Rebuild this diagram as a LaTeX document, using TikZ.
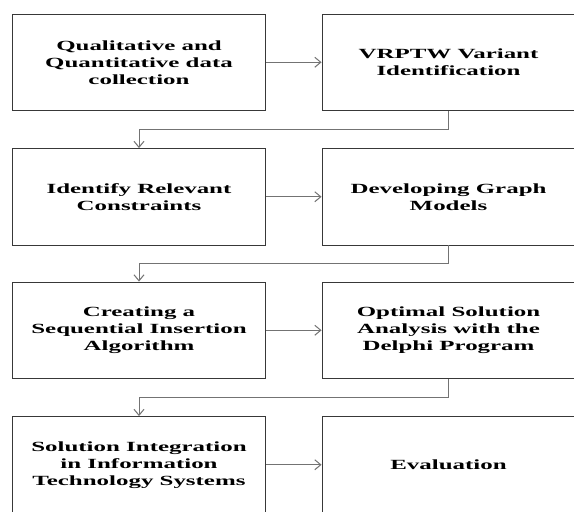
\documentclass[tikz,border=0pt]{standalone}
\usepackage{fontspec}
\newfontfamily\boxfont[FakeStretch=1.78]{Liberation Serif}
\usetikzlibrary{arrows.meta,calc}
\begin{document}
\begin{tikzpicture}[x=1pt,y=-1pt,
  stepbox/.style={draw=black!78, line width=0.9pt, minimum width=253pt, minimum height=96.5pt,
    inner sep=0pt, align=center, font=\boxfont\bfseries\fontsize{14}{17}\selectfont},
  flow/.style={draw=black!55, line width=1pt, -{Straight Barb[length=6pt,width=10pt,line width=1pt]}}]
\useasboundingbox (0,0) rectangle (574,512);
\clip (0,0) rectangle (574,512);
\fill[white] (0,0) rectangle (574,512);
\node[stepbox] (L1) at (139,62.25) {Qualitative and\\Quantitative data\\collection};
\node[stepbox] (R1) at (448.5,62.25) {VRPTW Variant\\Identification};
\node[stepbox] (L2) at (139,196.75) {Identify Relevant\\Constraints};
\node[stepbox] (R2) at (448.5,196.75) {Developing Graph\\Models};
\node[stepbox] (L3) at (139,330.25) {Creating a\\Sequential Insertion\\Algorithm};
\node[stepbox] (R3) at (448.5,330.25) {Optimal Solution\\Analysis with the\\Delphi Program};
\node[stepbox] (L4) at (139,464.75) {Solution Integration\\in Information\\Technology Systems};
\node[stepbox] (R4) at (448.5,464.75) {Evaluation};
\draw[flow] (L1) -- (R1);
\draw[flow] (L2) -- (R2);
\draw[flow] (L3) -- (R3);
\draw[flow] (L4) -- (R4);
\draw[flow] (R1.south) |- ($(R1.south)!0.5!(L2.north)$) -| (L2.north);
\draw[flow] (R2.south) |- ($(R2.south)!0.5!(L3.north)$) -| (L3.north);
\draw[flow] (R3.south) |- ($(R3.south)!0.5!(L4.north)$) -| (L4.north);
\end{tikzpicture}
\end{document}
